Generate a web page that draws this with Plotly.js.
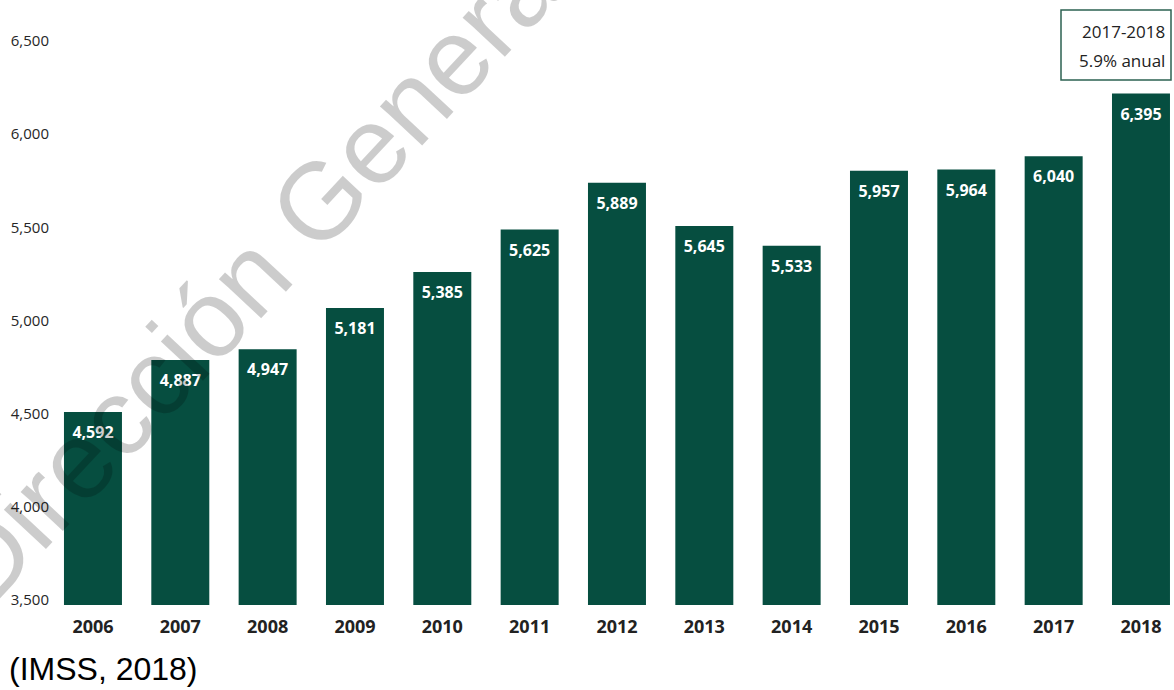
<!DOCTYPE html>
<html>
<head>
<meta charset="utf-8">
<script src="https://cdn.plot.ly/plotly-3.0.1.min.js"></script>
<style>html,body{margin:0;padding:0;background:#fff;}#chart{width:1174px;height:690px;}</style>
</head>
<body>
<div id="chart"></div>
<script>
// Data
const years = ['2006','2007','2008','2009','2010','2011','2012','2013','2014','2015','2016','2017','2018'];
const values = [4592, 4887, 4947, 5181, 5385, 5625, 5889, 5645, 5533, 5957, 5964, 6040, 6395];
const boxLines = ['2017-2018', '5.9% anual'];
const watermark = 'Dirección General';
const source = '(IMSS, 2018)';

const W = 1174, H = 690;
const plotBottom = 605;         // px
const plotLeft = 49.3;          // px
const px = (x) => x / W;
const py = (y) => (plotBottom - y) / plotBottom;

const green = '#064e40';
const fmt = (v) => v.toLocaleString('en-US');

const traces = [
  {
    type: 'bar',
    x: years,
    y: values,
    marker: { color: green, line: { width: 0 } },
    hoverinfo: 'x+y',
    xaxis: 'x', yaxis: 'y'
  },
  {
    type: 'scatter',
    mode: 'markers+text',
    x: years,
    y: values,
    text: values.map(fmt),
    textposition: 'bottom center',
    marker: { size: 21, color: 'rgba(0,0,0,0)', line: { width: 0 } },
    textfont: { family: 'Open Sans', size: 16, color: '#ffffff', weight: 'bold' },
    cliponaxis: false,
    hoverinfo: 'skip',
    xaxis: 'x', yaxis: 'y'
  },
  { type: 'scatter', x: [], y: [], xaxis: 'x', yaxis: 'y2', showlegend: false, hoverinfo: 'skip' }
];

const annotations = [];

// info box lines
annotations.push({
  xref: 'paper', yref: 'paper', x: px(1167), y: py(32), xanchor: 'right', yanchor: 'middle',
  text: boxLines[0], showarrow: false, font: { family: 'Open Sans', size: 17, color: '#222' }
});
annotations.push({
  xref: 'paper', yref: 'paper', x: px(1167), y: py(60), xanchor: 'right', yanchor: 'middle',
  text: boxLines[1], showarrow: false, font: { family: 'Open Sans', size: 17, color: '#222' }
});

// source caption
annotations.push({
  xref: 'paper', yref: 'paper', x: px(7), y: py(669), xanchor: 'left', yanchor: 'middle',
  text: source, showarrow: false, font: { family: 'Liberation Sans, Arial', size: 32, color: '#000' }
});

// watermark
annotations.push({
  xref: 'paper', yref: 'paper', x: px(257), y: py(267), xanchor: 'center', yanchor: 'middle',
  text: watermark, showarrow: false, textangle: -47,
  font: { family: 'Liberation Sans, Arial', size: 109, color: 'rgba(0,0,0,0.2)' }
});

const layout = {
  width: W, height: H,
  margin: { l: 0, r: 0, t: 0, b: H - plotBottom, pad: 0 },
  paper_bgcolor: '#fff', plot_bgcolor: '#fff',
  showlegend: false,
  bargap: 0.336,
  xaxis: {
    type: 'category',
    domain: [plotLeft / W, 1],
    range: [-0.5, 12.378],
    showgrid: false, zeroline: false, showline: false, ticks: '',
    ticklabelstandoff: 9,
    tickfont: { family: 'Open Sans', size: 18, color: '#222', weight: 'bold' }
  },
  yaxis: {
    range: [3500, 3500 + plotBottom / 0.1767],
    showticklabels: false, ticks: '', showline: false, showgrid: false, zeroline: false
  },
  yaxis2: {
    overlaying: 'y', anchor: 'free', position: px(49), side: 'left',
    range: [3473.2, 6720],
    tickmode: 'linear', tick0: 3500, dtick: 500, tickformat: ',',
    showgrid: false, zeroline: false, showline: false, ticks: '',
    tickfont: { family: 'Open Sans', size: 15, color: '#262626' }
  },
  shapes: [
    { type: 'rect', xref: 'paper', yref: 'paper', x0: px(1061), x1: px(1171), y0: py(80), y1: py(10),
      line: { color: '#2d6152', width: 1.5 }, fillcolor: 'rgba(0,0,0,0)' }
  ],
  annotations: annotations
};

Plotly.newPlot('chart', traces, layout, { displayModeBar: false, staticPlot: true });
</script>
</body>
</html>
